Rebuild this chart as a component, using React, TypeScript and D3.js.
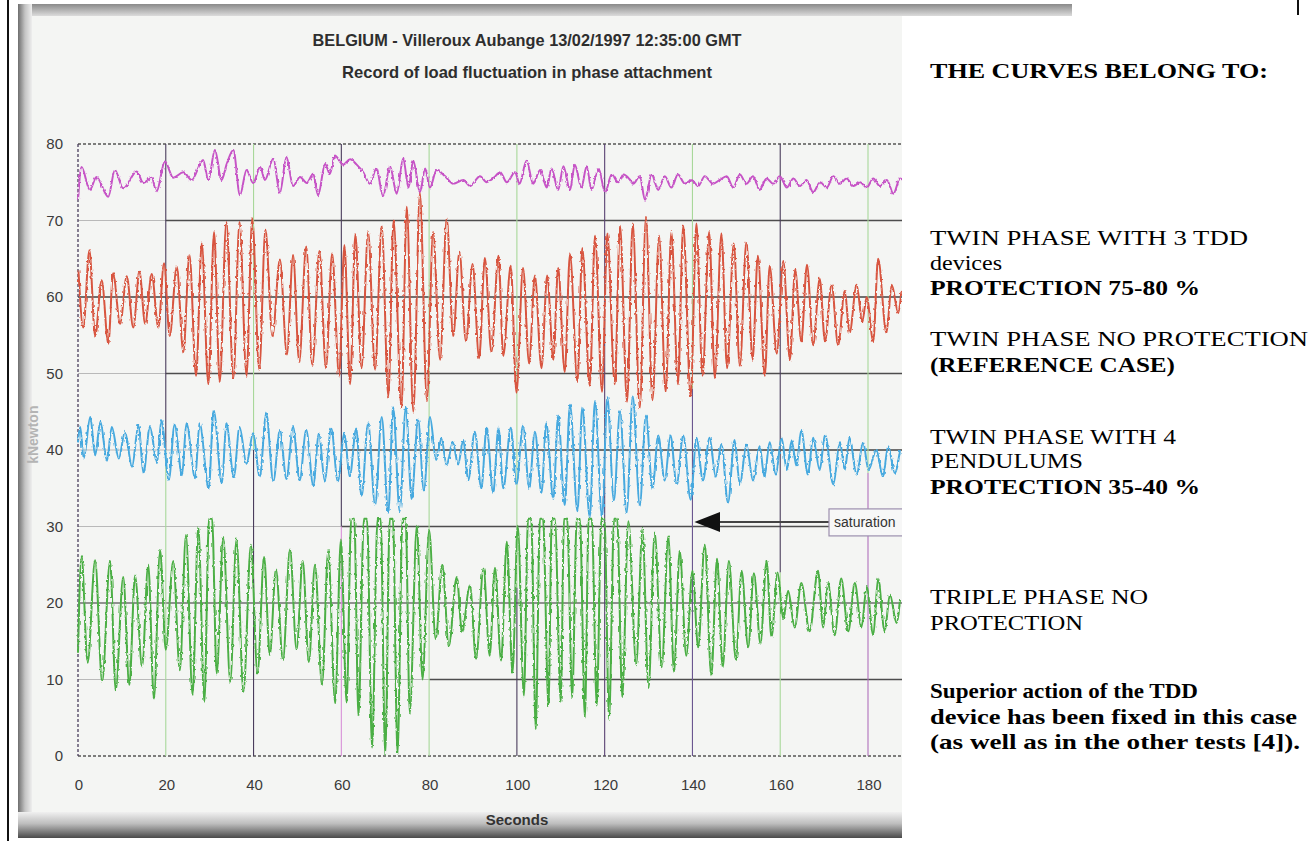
import React, { useEffect, useRef } from 'react'
import * as d3 from 'd3'

// tick values
const SECONDS = [0, 20, 40, 60, 80, 100, 120, 140, 160, 180]
const KNEWTON = [0, 10, 20, 30, 40, 50, 60, 70, 80]
const SATURATION = 31

// twin phase with 3 TDD devices (magenta), read point by point
const purpleCurve: [number, number][] = [
  [0, 72.7], [0.8, 77.0], [2.7, 74.0], [4.2, 75.7], [6.9, 73.1], [8.4, 76.6], [10.3, 74.2],
  [13.4, 76.4], [14.9, 74.9], [16.8, 75.6], [17.9, 73.8], [19.8, 77.7], [21.7, 75.6], [24.0, 76.3],
  [25.9, 75.3], [28.5, 77.9], [29.7, 75.3], [31.2, 79.2], [32.7, 75.3], [33.9, 77.4], [35.4, 79.2],
  [36.9, 73.3], [38.4, 76.6], [39.9, 74.9], [41.5, 77.0], [42.6, 75.3], [44.5, 78.1], [46.0, 73.6],
  [47.5, 78.3], [49.0, 74.5], [50.6, 75.7], [52.1, 74.9], [53.6, 76.1], [54.7, 73.3], [56.3, 77.4],
  [57.4, 76.1], [58.5, 78.5], [60.4, 77.3], [62.0, 78.0], [63.5, 77.3], [65.0, 76.3], [66.5, 74.8],
  [68.0, 76.8], [69.5, 73.2], [71.1, 77.1], [72.6, 73.5], [74.1, 78.1], [75.3, 74.3], [76.4, 77.8],
  [77.9, 73.7], [79.1, 76.8], [80.2, 74.3], [81.7, 76.6], [83.6, 75.8], [85.5, 74.8], [87.8, 75.3],
  [89.3, 74.5], [91.6, 75.8], [93.1, 75.0], [94.6, 75.5], [96.2, 76.3], [97.7, 75.0], [99.6, 76.3],
  [100.6, 74.8], [102.2, 77.8], [103.7, 74.8], [105.3, 76.6], [106.8, 74.3], [107.9, 76.8],
  [109.4, 74.0], [110.6, 77.1], [112.1, 74.0], [113.2, 77.3], [114.7, 74.3], [115.9, 77.1],
  [117.0, 74.0], [118.6, 76.8], [120.1, 73.7], [121.6, 76.0], [123.1, 75.0], [124.3, 76.0],
  [125.8, 75.3], [126.5, 74.8], [128.0, 75.8], [129.2, 72.7], [130.7, 76.0], [132.2, 74.0],
  [133.7, 75.8], [135.2, 74.3], [136.7, 76.0], [138.3, 74.8], [139.8, 75.3], [141.3, 74.5],
  [142.8, 75.8], [144.7, 74.8], [146.2, 75.3], [147.8, 75.8], [149.3, 74.3], [150.8, 76.0],
  [152.3, 74.8], [153.8, 75.8], [155.3, 74.0], [156.9, 75.5], [158.4, 74.8], [159.9, 75.8],
  [161.5, 74.3], [163.0, 75.5], [164.5, 74.5], [166.0, 75.3], [167.5, 73.7], [169.1, 75.0],
  [170.6, 74.3], [172.1, 75.8], [173.6, 74.8], [175.1, 75.5], [176.7, 74.5], [178.2, 75.0],
  [179.7, 74.3], [181.2, 75.5], [182.7, 74.5], [184.3, 75.3], [185.8, 73.5], [187.3, 75.5],
  [188.8, 74.8],
]

// twin phase no protection (red)
const redPeaks: [number, number][] = [
  [0.1, 63.5], [2.6, 66.1], [5.4, 62.2], [8.0, 63.1], [11.1, 62.7], [14.0, 63.3], [16.8, 63.0],
  [19.6, 64.4], [22.5, 64.0], [25.4, 65.5], [28.2, 67.0], [31.0, 68.5], [33.8, 69.8], [36.8, 69.8],
  [39.7, 70.3], [42.7, 68.8], [46.0, 64.9], [49.0, 65.5], [52.0, 66.6], [55.0, 66.0], [57.9, 65.7],
  [60.7, 66.8], [63.2, 68.2], [66.1, 68.5], [69.2, 69.3], [71.9, 70.0], [74.9, 71.8], [77.9, 73.6],
  [80.9, 68.5], [84.0, 70.3], [86.9, 65.9], [89.9, 64.3], [92.7, 65.1], [95.8, 65.4], [98.6, 64.1],
  [101.4, 63.8], [104.1, 62.8], [106.9, 62.8], [109.4, 63.8], [112.1, 65.6], [114.9, 66.4],
  [117.8, 68.0], [120.6, 68.3], [123.5, 69.3], [126.4, 69.6], [129.4, 70.4], [132.4, 68.0],
  [135.2, 68.5], [137.9, 69.3], [140.9, 69.6], [143.8, 68.5], [146.6, 68.3], [149.4, 67.0],
  [152.3, 67.2], [154.9, 65.4], [157.6, 64.1], [160.7, 64.7], [163.4, 63.6], [166.1, 64.2],
  [169.0, 62.4], [171.7, 61.6], [174.7, 60.8], [177.4, 61.6], [179.7, 60.0], [182.3, 65.0],
  [185.4, 61.6], [187.6, 60.8],
]
const redTroughs: [number, number][] = [
  [1.2, 56.0], [3.9, 54.9], [6.9, 53.9], [9.6, 56.5], [12.6, 56.0], [15.3, 56.5], [18.3, 56.0],
  [20.9, 54.9], [24.0, 52.8], [26.9, 49.7], [29.7, 48.6], [32.3, 48.9], [35.4, 49.4], [38.4, 49.7],
  [41.3, 50.5], [44.3, 54.9], [47.6, 52.5], [50.4, 51.5], [53.4, 51.0], [56.5, 50.7], [59.5, 49.7],
  [62.0, 48.6], [64.6, 50.7], [67.7, 50.5], [70.7, 47.0], [73.7, 45.5], [76.4, 45.0], [79.5, 46.5],
  [82.5, 51.8], [85.5, 54.9], [88.4, 54.2], [91.4, 52.0], [94.2, 52.8], [96.9, 52.3], [99.9, 47.5],
  [102.8, 51.3], [105.6, 50.7], [108.3, 51.8], [110.9, 50.2], [113.8, 48.9], [116.6, 48.4],
  [119.4, 47.6], [122.3, 48.6], [125.1, 46.3], [128.0, 45.5], [130.9, 46.5], [133.9, 47.6],
  [136.7, 48.6], [139.6, 47.0], [142.3, 49.7], [145.1, 49.4], [147.9, 50.7], [150.8, 51.0],
  [153.7, 51.8], [156.5, 49.7], [159.2, 52.6], [162.2, 51.8], [164.8, 54.2], [167.5, 53.7],
  [170.2, 54.2], [173.2, 53.7], [175.8, 55.3], [178.7, 56.8], [181.2, 54.2], [184.2, 55.3],
  [186.9, 57.9],
]

// twin phase with 4 pendulums (blue)
const bluePeaks: [number, number][] = [
  [0.5, 43.0], [2.8, 44.3], [5.1, 43.7], [7.7, 43.0], [10.7, 42.4], [13.8, 43.3], [16.4, 43.0],
  [19.0, 43.9], [22.0, 43.3], [24.7, 43.5], [27.7, 43.5], [30.9, 45.2], [33.8, 43.5], [36.8, 43.0],
  [39.9, 42.2], [42.9, 44.8], [46.0, 42.6], [49.0, 43.0], [52.0, 42.6], [54.9, 42.2], [57.7, 42.8],
  [60.7, 42.2], [63.4, 42.8], [66.1, 43.5], [69.2, 44.3], [71.8, 45.6], [74.7, 45.6], [77.5, 44.0],
  [80.2, 44.3], [82.8, 41.5], [85.4, 41.0], [87.8, 41.3], [90.4, 42.4], [93.1, 42.9], [95.8, 42.9],
  [98.6, 42.9], [101.4, 43.2], [104.1, 42.4], [106.7, 43.5], [109.4, 44.5], [112.1, 45.9],
  [114.9, 45.6], [117.8, 46.4], [120.6, 46.9], [123.5, 45.1], [126.4, 47.0], [129.4, 44.5],
  [132.2, 41.9], [135.0, 41.9], [137.9, 41.9], [140.9, 41.6], [143.9, 41.6], [146.6, 40.8],
  [149.6, 41.3], [152.3, 40.7], [155.3, 40.5], [157.6, 41.0], [160.3, 41.6], [162.6, 41.2],
  [164.8, 42.6], [167.5, 41.6], [170.2, 42.0], [173.6, 41.0], [175.8, 41.6], [178.9, 41.0],
  [181.9, 40.0], [184.6, 40.5], [187.3, 40.0],
]
const blueTroughs: [number, number][] = [
  [0, 41.0], [1.3, 38.9], [3.9, 39.3], [6.6, 38.6], [9.3, 38.9], [12.3, 37.8], [14.9, 37.0],
  [18.0, 38.3], [20.7, 36.1], [23.7, 36.7], [26.7, 36.3], [29.8, 35.0], [32.8, 35.6], [35.5, 36.5],
  [38.4, 38.2], [41.4, 36.5], [44.5, 35.9], [47.5, 36.2], [50.5, 36.0], [53.6, 35.4], [56.2, 36.0],
  [59.2, 35.9], [61.9, 36.5], [64.6, 33.9], [67.7, 32.8], [70.7, 31.8], [73.3, 32.0], [76.0, 33.6],
  [78.8, 34.7], [81.6, 38.7], [84.0, 38.0], [86.6, 38.1], [88.9, 36.0], [91.9, 35.0], [94.6, 34.4],
  [96.9, 35.0], [99.9, 35.5], [102.8, 35.0], [105.6, 34.4], [108.3, 33.6], [110.9, 32.8],
  [113.8, 32.0], [116.6, 31.2], [119.4, 31.2], [122.1, 33.4], [125.0, 31.8], [128.0, 32.8],
  [130.9, 35.0], [133.7, 36.0], [136.4, 35.5], [139.6, 33.5], [142.4, 36.0], [145.3, 36.5],
  [148.1, 33.1], [150.8, 35.5], [153.8, 36.0], [156.4, 36.5], [159.0, 36.8], [161.5, 37.4],
  [163.7, 37.9], [166.3, 36.8], [169.0, 37.4], [172.1, 35.5], [174.7, 37.4], [177.4, 36.8],
  [180.1, 37.4], [183.4, 36.5], [186.1, 37.0],
]

// triple phase no protection (green); 31 = clipped at saturation
const greenPeaks: [number, number][] = [
  [0.8, 26.1], [3.9, 25.6], [7.3, 25.5], [10.3, 23.4], [13.0, 23.6], [16.0, 25.0], [18.7, 26.9],
  [21.7, 25.5], [24.6, 28.9], [27.4, 30.0], [30.2, 31.0], [33.1, 28.5], [36.1, 28.3], [39.4, 27.6],
  [42.4, 26.0], [45.1, 24.4], [48.3, 27.0], [51.2, 25.5], [54.0, 25.0], [57.0, 26.8], [59.9, 28.3],
  [62.6, 31], [65.5, 31], [68.6, 31], [71.4, 31], [74.3, 31], [77.2, 30.1], [80.0, 29.5],
  [83.0, 25.0], [86.3, 23.4], [89.3, 22.3], [92.4, 24.5], [95.0, 24.6], [97.7, 28.0], [100.2, 30.1],
  [102.9, 31], [105.6, 31], [108.3, 31], [111.1, 31], [114.0, 31], [116.7, 31], [119.6, 31],
  [122.5, 31], [125.4, 30.7], [128.6, 29.7], [131.4, 29.2], [134.5, 28.7], [137.1, 26.8],
  [140.0, 24.2], [142.8, 27.6], [145.6, 25.8], [148.3, 25.5], [151.2, 24.2], [154.0, 23.9],
  [156.9, 25.5], [159.4, 24.0], [161.8, 21.6], [164.8, 22.6], [168.6, 24.2], [170.9, 22.6],
  [173.9, 23.2], [177.0, 22.6], [179.7, 22.1], [182.3, 23.2], [185.0, 21.1], [187.3, 20.5],
]
const greenTroughs: [number, number][] = [
  [0, 13.5], [2.2, 12.2], [5.5, 9.7], [8.6, 8.6], [11.7, 9.3], [14.6, 11.7], [17.3, 7.5],
  [20.0, 13.9], [23.2, 11.2], [26.1, 8.0], [28.8, 7.1], [31.6, 10.8], [34.7, 9.7], [37.7, 8.4],
  [40.9, 10.8], [43.7, 13.2], [46.7, 12.5], [49.8, 13.9], [52.6, 12.3], [55.6, 9.3], [58.6, 6.9],
  [61.2, 7.0], [63.9, 5.2], [67.0, 1.1], [70.0, 0.2], [72.8, 0.3], [75.6, 5.6], [78.5, 10.0],
  [81.5, 15.3], [84.5, 14.4], [87.5, 16.2], [90.7, 12.7], [93.8, 13.1], [96.4, 12.5], [99.0, 10.9],
  [101.6, 7.9], [104.3, 3.5], [107.2, 6.6], [110.0, 7.1], [112.6, 7.7], [115.5, 5.0], [118.2, 6.6],
  [121.0, 4.8], [124.0, 7.7], [127.2, 12.0], [130.0, 8.9], [133.0, 11.6], [135.8, 11.0],
  [138.6, 13.1], [141.3, 14.2], [144.3, 10.5], [146.9, 11.6], [149.9, 12.6], [152.7, 14.2],
  [155.5, 14.7], [158.0, 15.5], [160.7, 17.9], [163.3, 16.8], [166.7, 16.3], [169.8, 16.8],
  [172.4, 15.8], [175.5, 16.3], [178.5, 16.8], [181.2, 15.8], [183.8, 16.3], [186.5, 17.4],
]

const TITLE_1 = 'BELGIUM - Villeroux Aubange 13/02/1997 12:35:00 GMT'
const TITLE_2 = 'Record of load fluctuation in phase attachment'

const notes = [
  { text: 'THE CURVES BELONG TO:', bold: true, y: 78, w: 338 },
  { text: 'TWIN  PHASE WITH 3 TDD', bold: false, y: 245, w: 318 },
  { text: 'devices', bold: false, y: 270, w: 72 },
  { text: 'PROTECTION 75-80 %', bold: true, y: 295, w: 270 },
  { text: 'TWIN PHASE NO PROTECTION', bold: false, y: 346, w: 378 },
  { text: '(REFERENCE CASE)', bold: true, y: 372, w: 245 },
  { text: 'TWIN PHASE WITH 4', bold: false, y: 444, w: 246 },
  { text: 'PENDULUMS', bold: false, y: 468, w: 153 },
  { text: 'PROTECTION 35-40 %', bold: true, y: 494, w: 270 },
  { text: 'TRIPLE PHASE NO', bold: false, y: 604, w: 218 },
  { text: 'PROTECTION', bold: false, y: 630, w: 153 },
  { text: 'Superior action of the TDD', bold: true, y: 698, w: 268 },
  { text: 'device has been fixed in this case', bold: true, y: 724, w: 367 },
  { text: '(as well as in the other tests [4]).', bold: true, y: 749, w: 370 },
]

const DARK = '#4a3d5c'
const LGREEN = '#a8d89a'

export default function App() {
  const ref = useRef<SVGSVGElement>(null)

  useEffect(() => {
    const svg = d3.select(ref.current)
    svg.selectAll('*').remove()

    const x = d3.scaleLinear().domain([0, 180]).range([78, 868])
    const y = d3.scaleLinear().domain([0, 80]).range([756, 144])
    const CLIP_R = 902

    const defs = svg.append('defs')
    const grad = (id, x2, y2, stops) => {
      const g = defs.append('linearGradient').attr('id', id)
        .attr('x1', 0).attr('y1', 0).attr('x2', x2).attr('y2', y2)
      stops.forEach(([o, c]) => g.append('stop').attr('offset', o).attr('stop-color', c))
    }
    grad('gTop', 0, 1, [[0, '#8a8a8a'], [1, '#e9e9e9']])
    grad('gLeft', 1, 0, [[0, '#6e6e6e'], [0.5, '#c4c4c4'], [1, '#eeeeee']])
    grad('gBottom', 0, 1, [[0, '#f0f0f0'], [0.45, '#bdbdbd'], [1, '#4a4a4a']])
    defs.append('clipPath').attr('id', 'plotClip')
      .append('rect').attr('x', 70).attr('y', 120).attr('width', CLIP_R - 70).attr('height', 650)

    // scanned-signal jitter on the traces
    const jitter = defs.append('filter').attr('id', 'scan')
      .attr('filterUnits', 'userSpaceOnUse').attr('x', 0).attr('y', 0).attr('width', 1312).attr('height', 841)
    jitter.append('feTurbulence').attr('type', 'fractalNoise').attr('baseFrequency', '0.55 0.25')
      .attr('numOctaves', 1).attr('seed', 3).attr('result', 'n')
    jitter.append('feDisplacementMap').attr('in', 'SourceGraphic').attr('in2', 'n')
      .attr('scale', 3.2).attr('xChannelSelector', 'R').attr('yChannelSelector', 'G')

    // page + scanned picture frame
    svg.append('rect').attr('width', 1312).attr('height', 841).attr('fill', '#fff')
    svg.append('rect').attr('x', 18).attr('y', 4).attr('width', 1054).attr('height', 14).attr('fill', 'url(#gTop)')
    svg.append('rect').attr('x', 30).attr('y', 16).attr('width', CLIP_R - 30).attr('height', 800).attr('fill', '#f4f5f3')
    svg.append('rect').attr('x', 18).attr('y', 4).attr('width', 14).attr('height', 834).attr('fill', 'url(#gLeft)')
    svg.append('rect').attr('x', 18).attr('y', 812).attr('width', CLIP_R - 18).attr('height', 26).attr('fill', 'url(#gBottom)')
    svg.append('line').attr('x1', 8).attr('x2', 8).attr('y1', 0).attr('y2', 841)
      .attr('stroke', '#111').attr('stroke-width', 2)

    const grid = svg.append('g').attr('clip-path', 'url(#plotClip)')
    const x0 = x(0)
    const xEnd = CLIP_R

    // horizontal grid: light base line with darker runs, as in the scan
    const darkRuns = { 70: [20, 200], 60: [0, 200], 50: [20, 200], 40: [60, 200], 30: [60, 200], 20: [0, 200], 10: [80, 200] }
    KNEWTON.forEach((v) => {
      if (v === 0 || v === 80) {
        grid.append('line').attr('x1', x0).attr('x2', xEnd).attr('y1', y(v)).attr('y2', y(v))
          .attr('stroke', '#555').attr('stroke-width', 1.3).attr('stroke-dasharray', '3 2')
        return
      }
      grid.append('line').attr('x1', x0).attr('x2', xEnd).attr('y1', y(v)).attr('y2', y(v))
        .attr('stroke', '#b9b9b9').attr('stroke-width', 1.2)
      const [a, b] = darkRuns[v]
      grid.append('line').attr('x1', x(a)).attr('x2', x(b)).attr('y1', y(v)).attr('y2', y(v))
        .attr('stroke', v === 20 ? '#7a7a7a' : '#4d4d4d').attr('stroke-width', 1.3)
    })

    // vertical grid: two-tone segments per tick
    const vSegs = {
      20: [[40, 80, DARK], [0, 40, LGREEN]],
      40: [[40, 80, LGREEN], [0, 40, DARK]],
      60: [[30, 80, DARK], [0, 30, '#d890d8']],
      80: [[0, 80, LGREEN]],
      100: [[22, 80, LGREEN], [0, 22, DARK]],
      120: [[0, 80, '#5a4272']],
      140: [[48, 80, LGREEN], [0, 48, '#6a5690']],
      160: [[24, 80, DARK], [0, 24, LGREEN]],
      180: [[37, 80, LGREEN], [0, 37, '#b070bb']],
    }
    grid.append('line').attr('x1', x0).attr('x2', x0).attr('y1', y(80)).attr('y2', y(0))
      .attr('stroke', '#4a3d5c').attr('stroke-width', 1.3).attr('stroke-dasharray', '3 2')
    SECONDS.filter((s) => s > 0).forEach((s) => {
      vSegs[s].forEach(([lo, hi, c]) => {
        grid.append('line').attr('x1', x(s)).attr('x2', x(s)).attr('y1', y(hi)).attr('y2', y(lo))
          .attr('stroke', c).attr('stroke-width', 1.1)
      })
    })

    // curves
    const merge = (p, t) => [...p, ...t].sort((a, b) => a[0] - b[0])
    const flatTops = (pts) => pts.flatMap(([t, v]) =>
      v >= SATURATION ? [[t - 0.35, SATURATION], [t + 0.35, SATURATION]] : [[t, v]])
    const line = d3.line<[number, number]>()
      .x((d) => x(d[0])).y((d) => y(d[1]))
      .curve(d3.curveMonotoneX)

    const series = [
      { pts: purpleCurve, color: '#c653c6' },
      { pts: merge(redPeaks, redTroughs), color: '#d8553f' },
      { pts: merge(bluePeaks, blueTroughs), color: '#46a9df' },
      { pts: flatTops(merge(greenPeaks, greenTroughs)), color: '#4caf45' },
    ]
    const curves = svg.append('g').attr('clip-path', 'url(#plotClip)')
    series.forEach((s) => {
      curves.append('path').attr('d', line(s.pts)).attr('fill', 'none')
        .attr('stroke', s.color).attr('stroke-width', 2).attr('stroke-linejoin', 'round')
        .attr('filter', 'url(#scan)')
    })

    // saturation note + arrow
    const satY = y(30.6)
    svg.append('line').attr('x1', 716).attr('x2', 829).attr('y1', satY).attr('y2', satY)
      .attr('stroke', '#444').attr('stroke-width', 2)
    svg.append('path').attr('d', `M${x(140) + 2},${satY} L720,${satY - 10} L720,${satY + 10} Z`).attr('fill', '#111')
    svg.append('rect').attr('x', 829).attr('y', satY - 13).attr('width', 80).attr('height', 27)
      .attr('fill', '#f7f7f7').attr('stroke', '#9c8fae').attr('stroke-width', 1.2)
    svg.append('text').attr('x', 834).attr('y', satY + 5).text('saturation')
      .attr('font-family', 'Liberation Sans, Arial, sans-serif').attr('font-size', 14).attr('fill', '#333')

    // axes text
    const sans = 'Liberation Sans, Arial, sans-serif'
    svg.append('g').selectAll('text').data(KNEWTON).enter().append('text')
      .attr('x', 63).attr('y', (d) => y(d) + 5).attr('text-anchor', 'end')
      .attr('font-family', sans).attr('font-size', 15).attr('fill', '#3a3a3a').text((d) => d)
    svg.append('g').selectAll('text').data(SECONDS).enter().append('text')
      .attr('x', (d) => x(d) + 1).attr('y', 790).attr('text-anchor', 'middle')
      .attr('font-family', sans).attr('font-size', 15).attr('fill', '#3a3a3a').text((d) => d)
    svg.append('text').attr('x', 517).attr('y', 825).attr('text-anchor', 'middle')
      .attr('font-family', sans).attr('font-weight', 'bold').attr('font-size', 15).attr('fill', '#333').text('Seconds')
    svg.append('text').attr('transform', `translate(38,${y(42)}) rotate(-90)`).attr('text-anchor', 'middle')
      .attr('font-family', sans).attr('font-weight', 'bold').attr('font-size', 14).attr('fill', '#b4b4b4').text('kNewton')

    svg.append('text').attr('x', 527).attr('y', 46).attr('text-anchor', 'middle')
      .attr('textLength', 429).attr('lengthAdjust', 'spacingAndGlyphs')
      .attr('font-family', sans).attr('font-weight', 'bold').attr('font-size', 17).attr('fill', '#2e2e2e').text(TITLE_1)
    svg.append('text').attr('x', 527).attr('y', 78).attr('text-anchor', 'middle')
      .attr('textLength', 370).attr('lengthAdjust', 'spacingAndGlyphs')
      .attr('font-family', sans).attr('font-weight', 'bold').attr('font-size', 17).attr('fill', '#2e2e2e').text(TITLE_2)

    // right-hand explanation panel
    svg.append('rect').attr('x', CLIP_R).attr('y', 16).attr('width', 1312 - CLIP_R).attr('height', 825).attr('fill', '#fff')
    svg.append('line').attr('x1', 1298).attr('x2', 1298).attr('y1', 0).attr('y2', 15)
      .attr('stroke', '#111').attr('stroke-width', 2)
    svg.append('g').selectAll('text').data(notes).enter().append('text')
      .attr('x', 930).attr('y', (d) => d.y)
      .attr('textLength', (d) => d.w).attr('lengthAdjust', 'spacingAndGlyphs')
      .attr('font-family', 'Liberation Serif, Times New Roman, serif').attr('font-size', 22)
      .attr('font-weight', (d) => (d.bold ? 'bold' : 'normal')).attr('fill', '#000')
      .text((d) => d.text)
  }, [])

  return (
    <div style={{ position: 'absolute', left: 0, top: 0 }}>
      <svg ref={ref} width={1312} height={841} style={{ display: 'block' }} />
    </div>
  )
}
